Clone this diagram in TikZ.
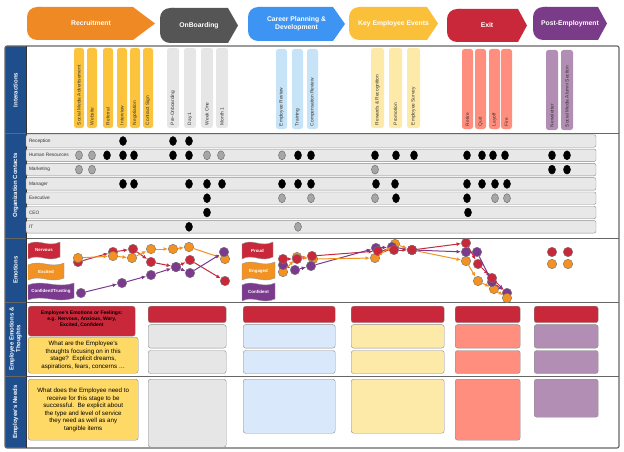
\documentclass[tikz,border=0pt]{standalone}
\usepackage{fontspec}
\setmainfont{Liberation Sans}
\usepackage{tikz}
\usetikzlibrary{arrows.meta,positioning,shapes.geometric}
\definecolor{recorange}{RGB}{239,137,36}
\definecolor{onbgrey}{RGB}{85,85,85}
\definecolor{carblue}{RGB}{62,148,242}
\definecolor{keyyellow}{RGB}{250,192,58}
\definecolor{exitred}{RGB}{201,40,58}
\definecolor{postpurple}{RGB}{122,59,136}
\definecolor{bandblue}{RGB}{31,78,140}
\definecolor{touchyellow}{RGB}{252,196,60}
\definecolor{touchgrey}{RGB}{230,230,230}
\definecolor{touchblue}{RGB}{198,227,247}
\definecolor{paleyellow}{RGB}{254,234,168}
\definecolor{salmon}{RGB}{255,142,126}
\definecolor{lilac}{RGB}{178,142,180}
\definecolor{iceblue}{RGB}{218,232,252}
\definecolor{noteyellow}{RGB}{255,217,102}
\definecolor{emored}{RGB}{201,40,58}
\definecolor{emoorange}{RGB}{241,146,34}
\definecolor{emopurple}{RGB}{123,58,142}
\definecolor{rowgrey}{RGB}{232,232,232}

% Phase als Pfeil: Name, x0, x1, Spitze, y0, y1, Farbe, Text
\newcommand{\stagebox}[8]{%
  \fill[#7, rounded corners=10pt] (#2,#5) rectangle (#2+24,#6);
  \fill[#7] (#2+12,#5) -- (#3-#4,#5) -- (#3,{(#5+#6)/2}) -- (#3-#4,#6) -- (#2+12,#6) -- cycle;
  \node[stagetxt] (#1) at ({(#2+#3)/2},{(#5+#6)/2}) {#8};}
% Fahne: Name, x, y, Breite, Hoehe, Farbe, Text
\newcommand{\emoflag}[7]{%
  \begin{scope}[shift={(#2,#3)}]
    \filldraw[fill=#6, draw=black!40, thin] (0,2) .. controls (#4*0.35,-4) and (#4*0.6,6) .. (#4,0)
      -- (#4,#5-2) .. controls (#4*0.6,#5+4) and (#4*0.35,#5-6) .. (0,#5) -- cycle;
    \node[flagtxt] (#1) at (#4/2,#5/2) {#7};
  \end{scope}}

\begin{document}
\begin{tikzpicture}[x=1pt, y=-1pt, >=Latex,
  stagetxt/.style={text=white, font=\bfseries\fontsize{6.8}{8}\selectfont, align=center},
  bandtxt/.style={rotate=90, text=white, font=\bfseries\fontsize{6}{6.6}\selectfont, align=center},
  touch/.style={rounded corners=2.5pt, minimum height=80pt, inner sep=0},
  touchtxt/.style={rotate=90, anchor=west, font=\fontsize{4.8}{5}\selectfont, text=black!80, inner sep=0},
  contactrow/.style={fill=rowgrey, draw=black!45, rounded corners=2pt, minimum width=570pt, minimum height=12.5pt, inner sep=0},
  rowtxt/.style={font=\fontsize{4.8}{5}\selectfont, text=black!80, inner sep=0, anchor=west},
  meetdark/.style={ellipse, fill=black, draw=black, minimum width=7pt, minimum height=9pt, inner sep=0},
  meetgrey/.style={ellipse, fill=gray!70, draw=black!60, minimum width=7pt, minimum height=9pt, inner sep=0},
  emo/.style={circle, draw=black!55, thin, minimum size=9.5pt, inner sep=0},
  emoline/.style={-{Latex[length=4.5pt,width=3.8pt]}, line width=1pt},
  flagtxt/.style={text=white, font=\bfseries\fontsize{4.4}{5}\selectfont, inner sep=0},
  card/.style={draw=black!45, rounded corners=2.5pt, anchor=north west, inner sep=0},
  cardtxt/.style={align=center, font=\fontsize{6.2}{7.5}\selectfont}]
\useasboundingbox (0,0) rectangle (624,452);

%Phasen
\stagebox{sRec}{27}{155}{22}{7}{40}{recorange}{Recruitment}
\stagebox{sOnb}{160}{238}{10}{8}{43}{onbgrey}{OnBoarding}
\stagebox{sCar}{248}{345}{12}{7}{41}{carblue}{Career Planning \&\\Development}
\stagebox{sKey}{349}{438}{11}{7}{40}{keyyellow}{Key Employee Events}
\stagebox{sExit}{447}{527}{9}{9}{42}{exitred}{Exit}
\stagebox{sPost}{533}{607}{9}{7}{40}{postpurple}{Post-Employment}

%Rahmen und Seitenleiste
\fill[bandblue] (5,46) rectangle (26,448);
\foreach \y in {133,238,302,376} \draw[black!60, line width=0.8pt] (5,\y) -- (619,\y);
\draw[black!60, line width=1.2pt, rounded corners=2pt] (5,46) rectangle (619,448);
\draw[black!80, line width=0.8pt] (26,46) -- (26,448);
\node[bandtxt] (bInter) at (15.5,90) {Interactions};
\node[bandtxt] (bOrg) at (15.5,185.5) {Organization Contacts};
\node[bandtxt] (bEmo) at (15.5,270) {Emotions};
\node[bandtxt] (bThought) at (15.5,339) {Employee Emotions \&\\Thoughts};
\node[bandtxt] (bNeed) at (15.5,412) {Employee's Needs};

%Interaktionen
\foreach \x/\lbl in {74/Social Media Advertisement, 87/Website, 103/Referral, 117/Interview, 130/Negotiation, 143/Contract Sign} {
  \node[touch, fill=touchyellow, minimum width=10pt] (ia\x) at (\x+5,88) {};
  \node[touchtxt] (ial\x) at ([yshift=3pt]ia\x.south) {\lbl};}
\foreach \x/\lbl in {167/Pre-Onboarding, 184/Day 1, 201/Week One, 216/Month 1} {
  \node[touch, fill=touchgrey, minimum width=12pt] (ia\x) at (\x+6,88) {};
  \node[touchtxt] (ial\x) at ([yshift=3pt]ia\x.south) {\lbl};}
\foreach \x/\lbl in {276/Employee Review, 292/Training, 307/Compensation Review} {
  \node[touch, fill=touchblue, minimum width=11pt] (ia\x) at (\x+5.5,89) {};
  \node[touchtxt] (ial\x) at ([yshift=3pt]ia\x.south) {\lbl};}
\foreach \x/\lbl in {371/Rewards \& Recognition, 389/Promotion, 407/Employee Survey} {
  \node[touch, fill=paleyellow, minimum width=13pt] (ia\x) at (\x+6.5,88) {};
  \node[touchtxt] (ial\x) at ([yshift=3pt]ia\x.south) {\lbl};}
\foreach \x/\lbl in {462/Retire, 475/Quit, 489/Layoff, 501/Fire} {
  \node[touch, fill=salmon, minimum width=11pt] (ia\x) at (\x+5.5,89) {};
  \node[touchtxt] (ial\x) at ([yshift=3pt]ia\x.south) {\lbl};}
\foreach \x/\lbl in {546/Newsletter, 561/Social Media Alumni Section} {
  \node[touch, fill=lilac, minimum width=12pt] (ia\x) at (\x+6,90) {};
  \node[touchtxt] (ial\x) at ([yshift=3pt]ia\x.south) {\lbl};}

%Kontakte
\foreach \lbl [count=\i from 0] in {Reception, Human Resources, Marketing, Manager, Executive, CEO, IT} {
  \node[contactrow] (row\i) at (311,{141+14.3*\i}) {};
  \node[rowtxt] (rowl\i) at ([xshift=3pt]row\i.west) {\lbl};}
\foreach \x in {123,173,189} \node[meetdark] (rec\x) at (\x,141) {};
\foreach \x in {107,123,134,173,189,298,311,375,396,414,467,482,493,505,552,567} \node[meetdark] (hr\x) at (\x,155.3) {};
\foreach \x in {79,92,207,221,282} \node[meetgrey] (hrg\x) at (\x,155.3) {};
\foreach \x in {552,567} \node[meetdark] (mk\x) at (\x,169.6) {};
\foreach \x in {79,92,375} \node[meetgrey] (mkg\x) at (\x,169.6) {};
\foreach \x in {123,134,189,207,222,282,298,311,376,395,467,482,495,507} \node[meetdark] (mg\x) at (\x,183.9) {};
\foreach \x in {207,396,467} \node[meetdark] (ex\x) at (\x,198.2) {};
\foreach \x in {282,311,375,495,507} \node[meetgrey] (exg\x) at (\x,198.2) {};
\foreach \x in {207,468} \node[meetdark] (ceo\x) at (\x,212.5) {};
\node[meetdark] (it189) at (189,226.8) {};
\node[meetgrey] (itg298) at (298,226.8) {};

%Emotionen
\emoflag{fNerv}{28}{242}{32}{17}{emored}{Nervous}
\emoflag{fExc}{28}{263}{36}{17}{emoorange}{Excited}
\emoflag{fConf}{28}{283}{46}{17}{emopurple}{Confident/Trusting}
\emoflag{fProud}{242}{242}{31}{17}{emored}{Proud}
\emoflag{fEng}{242}{262}{33}{18}{emoorange}{Engaged}
\emoflag{fConfb}{242}{283}{33}{18}{emopurple}{Confident}

\foreach \n/\x/\y in {r1/78/262, r2/113/252, r3/133/249, r4/151/262, r5/176/267, r6/190/260, r7/225/281}
  \node[emo, fill=emored] (\n) at (\x,\y) {};
\foreach \n/\x/\y in {o1/78/258, o2/113/256, o3/132/258, o4/151/249, o5/173/249, o6/189/247, o7/225/259}
  \node[emo, fill=emoorange] (\n) at (\x,\y) {};
\foreach \n/\x/\y in {p1/81/293, p2/122/283, p3/151/275, p4/176/267, p5/190/273, p6/224/252}
  \node[emo, fill=emopurple] (\n) at (\x,\y) {};
\foreach \a/\b in {r1/r2, r2/r3, r3/r4, r4/r5, r5/r6, r6/r7} \draw[emoline, emored] (\a) -- (\b);
\foreach \a/\b in {o1/o2, o2/o3, o3/o4, o4/o5, o5/o6, o6/o7} \draw[emoline, emoorange] (\a) -- (\b);
\foreach \a/\b in {p1/p2, p2/p3, p3/p4, p4/p5, p5/p6} \draw[emoline, emopurple] (\a) -- (\b);

\foreach \n/\x/\y in {u1/283/272, u2/297/257, u3/313/259, u4/375/258, u5/395/244, u6/412/250, u7/466/261, u8/478/281, u9/494/289}
  \node[emo, fill=emoorange] (\n) at (\x,\y) {};
\foreach \n/\x/\y in {q1/283/265, q2/295/270, q3/311/266, q4/376/248, q5/392/247, q6/412/250, q7/466/252, q8/477/252, q9/492/282, q10/507/293}
  \node[emo, fill=emopurple] (\n) at (\x,\y) {};
\foreach \n/\x/\y in {s1/283/259, s2/297/259, s3/312/256, s4/378/251, s5/394/250, s6/412/250, s7/466/243, s8/478/264, s9/492/278}
  \node[emo, fill=emored] (\n) at (\x,\y) {};
\node[emo, fill=emoorange] (u10) at (507,298) {};
\foreach \a/\b in {s1/s2, s2/s3, s3/s4, s4/s5, s5/s6, s6/s7, s7/s8, s8/s9, s9/q10} \draw[emoline, emored] (\a) -- (\b);
\foreach \a/\b in {q1/q2, q2/q3, q3/q4, q4/q5, q5/q6, q6/q7, q7/q8, q8/q9, q9/q10} \draw[emoline, emopurple] (\a) -- (\b);
\foreach \a/\b in {u1/u2, u2/u3, u3/u4, u4/u5, u5/u6, u6/u7, u7/u8, u8/u9, u9/u10} \draw[emoline, emoorange] (\a) -- (\b);

\foreach \n/\x/\y in {v1/552/252, v2/568/252} \node[emo, fill=emored] (\n) at (\x,\y) {};
\foreach \n/\x/\y in {w1/552/264, w2/568/264} \node[emo, fill=emoorange] (\n) at (\x,\y) {};

%Gefuehle und Gedanken
\node[card, fill=exitred, minimum width=107pt, minimum height=30pt] (feel1) at (28,306) {};
\node[align=center, font=\bfseries\fontsize{5}{6}\selectfont] (feel1t) at ([yshift=2pt]feel1.center) {Employee's Emotions or Feelings:\\e.g. Nervous, Anxious, Wary,\\Excited, Confident};
\node[card, fill=noteyellow, minimum width=110pt, minimum height=36pt] (thought1) at (28,337) {};
\node[cardtxt] (thought1t) at (thought1.center) {What are the Employee's\\thoughts focusing on in this\\stage?\ \ Explicit dreams,\\aspirations, fears, concerns \ldots};
\foreach \c/\x/\w/\col in {2/148/78/touchgrey, 3/243/92/iceblue, 4/351/93/paleyellow, 5/455/65/salmon, 6/534/64/lilac} {
  \node[card, fill=exitred, minimum width=\w pt, minimum height=16.5pt] (feel\c) at (\x,306) {};
  \node[card, fill=\col, minimum width=\w pt, minimum height=23.5pt, below=1.5pt of feel\c.south west, anchor=north west] (thA\c) {};
  \node[card, fill=\col, minimum width=\w pt, minimum height=23pt, below=2pt of thA\c.south west, anchor=north west] (thB\c) {};}

%Beduerfnisse
\node[card, fill=noteyellow, minimum width=110pt, minimum height=61pt] (need1) at (28,379) {};
\node[cardtxt] (need1t) at (need1.center) {What does the Employee need to\\receive for this stage to be\\successful.\ \ Be explicit about\\the type and level of service\\they need as well as any\\tangible items};
\foreach \c/\x/\w/\h/\col in {2/148/78/68/touchgrey, 3/243/92/54/iceblue, 4/351/93/54/paleyellow, 5/455/65/61/salmon, 6/534/64/38/lilac}
  \node[card, fill=\col, minimum width=\w pt, minimum height=\h pt] (need\c) at (\x,379) {};
\end{tikzpicture}
\end{document}
